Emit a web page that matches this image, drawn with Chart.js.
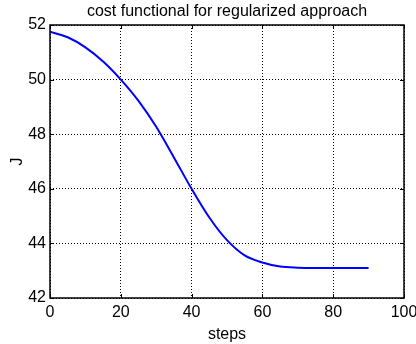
<!DOCTYPE html>
<html><head><meta charset="utf-8">
<script src="https://cdn.jsdelivr.net/npm/chart.js@4/dist/chart.umd.min.js"></script>
<style>html,body{margin:0;padding:0;background:#fff}</style>
</head><body>
<canvas id="c" width="416" height="344"></canvas>
<script>
const titleText = "cost functional for regularized approach";
const xLabel = "steps";
const yLabel = "J";
const steps = [0,5,10,15,20,25,30,35,40,45,50,55,60,65,70,75,80,85,90];
const costJ = [51.75,51.55,51.18,50.66,50.00,49.22,48.27,47.15,46.00,44.95,44.12,43.56,43.30,43.15,43.11,43.10,43.10,43.10,43.10];
const xTicks = [0,20,40,60,80,100];
const yTicks = [42,44,46,48,50,52];

const FONT = "'Liberation Sans', Arial, Helvetica, sans-serif";

const boxPlugin = {
  id: 'box',
  afterDraw(chart) {
    const {ctx, chartArea: a, scales} = chart;
    ctx.save();
    ctx.strokeStyle = '#000';
    ctx.lineWidth = 1.5;
    ctx.setLineDash([]);
    ctx.strokeRect(a.left, a.top, a.right - a.left, a.bottom - a.top);
    ctx.lineWidth = 1;
    const L = 4;
    xTicks.forEach(v => {
      const x = Math.round(scales.x.getPixelForValue(v)) + 0.5;
      ctx.beginPath();
      ctx.moveTo(x, a.bottom); ctx.lineTo(x, a.bottom - L);
      ctx.moveTo(x, a.top); ctx.lineTo(x, a.top + L);
      ctx.stroke();
    });
    yTicks.forEach(v => {
      const y = Math.round(scales.y.getPixelForValue(v)) + 0.5;
      ctx.beginPath();
      ctx.moveTo(a.left, y); ctx.lineTo(a.left + L, y);
      ctx.moveTo(a.right, y); ctx.lineTo(a.right - L, y);
      ctx.stroke();
    });
    ctx.fillStyle = '#000';
    ctx.font = '16px ' + FONT;
    ctx.textAlign = 'center';
    ctx.textBaseline = 'middle';
    ctx.fillText(titleText, (a.left + a.right) / 2, 12);
    ctx.restore();
  }
};

new Chart(document.getElementById('c'), {
  type: 'line',
  data: {
    datasets: [{
      data: steps.map((s, i) => ({x: s, y: costJ[i]})),
      borderColor: '#0000ff',
      borderWidth: 2,
      pointRadius: 0,
      fill: false,
      cubicInterpolationMode: 'monotone'
    }]
  },
  options: {
    responsive: false,
    animation: false,
    layout: {padding: {top: 25, right: 12, left: 0, bottom: 0}},
    plugins: {legend: {display: false}, title: {display: false}, tooltip: {enabled: false}},
    scales: {
      x: {
        type: 'linear', min: 0, max: 100,
        afterFit(s) { s.height = 46; s.paddingRight = 0; s.paddingLeft = 0; },
        afterBuildTicks(s) { s.ticks = xTicks.map(v => ({value: v})); },
        ticks: {autoSkip: false, maxRotation: 0, color: '#000', font: {family: FONT, size: 16}, padding: 5},
        grid: {color: '#000', lineWidth: 1, drawTicks: false},
        border: {display: false, dash: [1, 2]},
        title: {display: true, text: xLabel, color: '#000', font: {family: FONT, size: 16}, padding: {top: 0, bottom: 0}}
      },
      y: {
        type: 'linear', min: 42, max: 52,
        afterFit(s) { s.width = 50; s.paddingTop = 0; s.paddingBottom = 0; },
        afterBuildTicks(s) { s.ticks = yTicks.map(v => ({value: v})); },
        ticks: {autoSkip: false, color: '#000', font: {family: FONT, size: 16}, padding: 4},
        grid: {color: '#000', lineWidth: 1, drawTicks: false},
        border: {display: false, dash: [1, 2]},
        title: {display: true, text: yLabel, color: '#000', font: {family: FONT, size: 16}, padding: {top: 8, bottom: 0}}
      }
    }
  },
  plugins: [boxPlugin]
});
</script>
</body></html>
